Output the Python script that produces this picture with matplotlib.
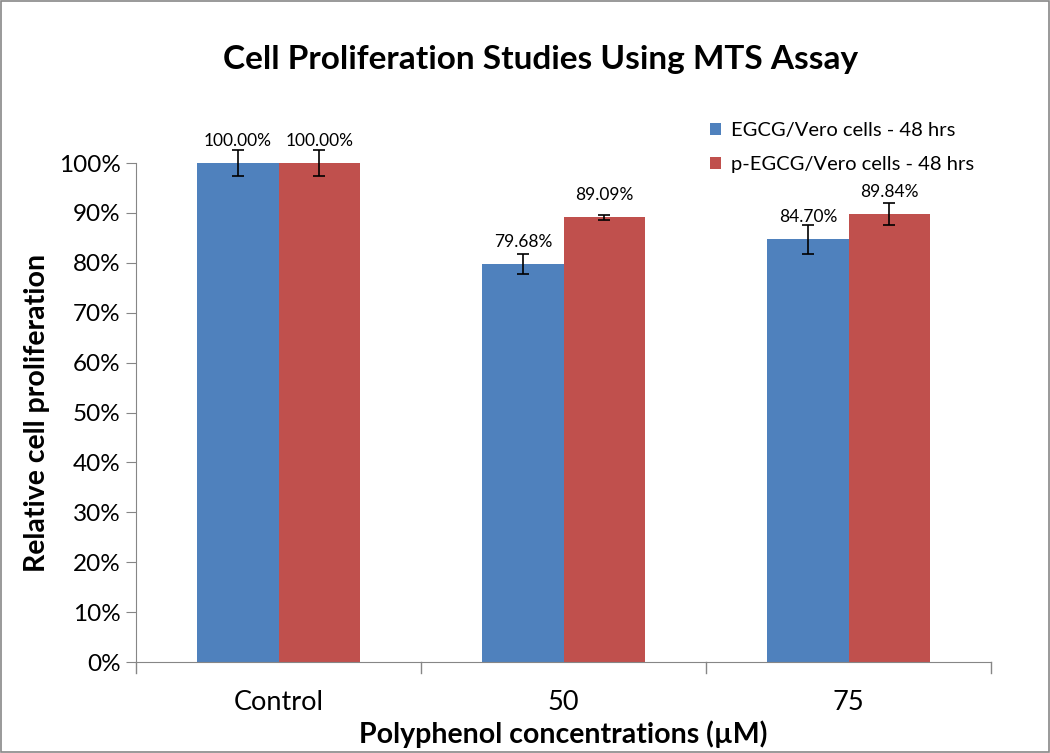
import numpy as np
import matplotlib.pyplot as plt
from matplotlib.patches import Rectangle

categories = ['Control', '50', '75']
series_names = ['EGCG/Vero cells - 48 hrs', 'p-EGCG/Vero cells - 48 hrs']
egcg = [100.00, 79.68, 84.70]
pegcg = [100.00, 89.09, 89.84]
egcg_err = [2.6, 2.0, 2.85]
pegcg_err = [2.6, 0.55, 2.2]
yticks = list(range(0, 101, 10))

blue = '#4F81BD'
red = '#C0504D'
axis_gray = '#868686'
font = ['Lato', 'DejaVu Sans']

fig = plt.figure(figsize=(10.5, 7.53), dpi=100)
fig.patches.append(Rectangle((0.001, 0.001), 0.998, 0.998, transform=fig.transFigure,
                             fill=False, edgecolor='#888888', linewidth=1.2))
ax = fig.add_axes([0.1295, 0.1208, 0.8145, 0.6627])

x = np.arange(len(categories))
w = 0.286
err_kw = dict(ecolor='black', capsize=4, elinewidth=1.2, capthick=1.2)
b1 = ax.bar(x - w / 2, egcg, w, color=blue, label=series_names[0],
            yerr=egcg_err, error_kw=err_kw)
b2 = ax.bar(x + w / 2, pegcg, w, color=red, label=series_names[1],
            yerr=pegcg_err, error_kw=err_kw)
for bars in (b1, b2):
    for r in bars.errorbar.lines[1] + bars.errorbar.lines[2]:
        r.set_clip_on(False)
    for bar in bars:
        v = bar.get_height()
        ax.annotate(f'{v:.2f}%', (bar.get_x() + bar.get_width() / 2, v),
                    xytext=(0, 16), textcoords='offset points', ha='center', va='center',
                    fontsize=12.5, family=font, annotation_clip=False)

ax.set_xlim(-0.5, len(categories) - 0.5)
ax.set_ylim(0, 100)
ax.set_yticks(yticks)
ax.set_yticklabels([f'{t}%' for t in yticks], fontsize=17.5, family=font)
ax.set_xticks(x)
ax.set_xticklabels(categories, fontsize=19.5, family=font)
ax.tick_params(axis='x', length=0, pad=20)
ax.tick_params(axis='y', length=7, color=axis_gray, pad=4)
# category separator ticks
for b in np.arange(-0.5, len(categories), 1.0):
    ax.plot([b, b], [0, -2.2], color=axis_gray, lw=1, clip_on=False)

for s in ['top', 'right']:
    ax.spines[s].set_visible(False)
for s in ['left', 'bottom']:
    ax.spines[s].set_color(axis_gray)

ax.set_xlabel('Polyphenol concentrations (\u00b5M)', fontsize=20.5, fontweight='bold',
              family=font, labelpad=4)
ax.set_ylabel('Relative cell proliferation', fontsize=20.5, fontweight='bold',
              family=font, labelpad=6)
fig.text(0.515, 0.921, 'Cell Proliferation Studies Using MTS Assay', ha='center',
         va='center', fontsize=24, fontweight='bold', family=font)

ax.legend(loc='upper left', bbox_to_anchor=(0.65, 1.118), frameon=False,
          prop={'family': font, 'size': 14.5}, handlelength=0.55, handleheight=0.55,
          handletextpad=0.5, labelspacing=0.85)

fig.savefig('out.png', dpi=100)
